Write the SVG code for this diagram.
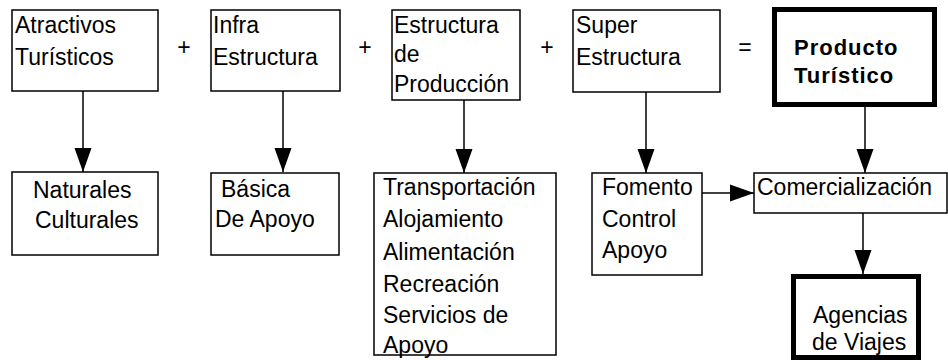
<svg xmlns="http://www.w3.org/2000/svg" width="948" height="360" viewBox="0 0 948 360">
<defs>
<style>
.box{fill:#fff;stroke:#000;stroke-width:1.5}
.thick{fill:#fff;stroke:#000;stroke-width:5}
.t{font-family:"Liberation Sans",Arial,sans-serif;font-size:23px;fill:#000}
.b{font-family:"Liberation Sans",Arial,sans-serif;font-size:22px;font-weight:bold;letter-spacing:1px;fill:#000}
.op{font-family:"Liberation Sans",Arial,sans-serif;font-size:23px;fill:#000;text-anchor:middle}
.c{fill:none;stroke:#000;stroke-width:1.5}
</style>
<marker id="ah" markerUnits="userSpaceOnUse" markerWidth="24" markerHeight="18" refX="24" refY="9" orient="auto">
<path d="M0,0.5 L24,9 L0,17.5 z" fill="#000"/>
</marker>
</defs>
<rect width="948" height="360" fill="#fff"/>
<g id="connectors">
<line class="c" x1="83" y1="91" x2="83" y2="172" marker-end="url(#ah)"/>
<line class="c" x1="283" y1="91" x2="283" y2="172" marker-end="url(#ah)"/>
<line class="c" x1="464" y1="100" x2="464" y2="173" marker-end="url(#ah)"/>
<line class="c" x1="646" y1="92" x2="646" y2="173" marker-end="url(#ah)"/>
<line class="c" x1="865" y1="107" x2="865" y2="173" marker-end="url(#ah)"/>
<line class="c" x1="702" y1="193" x2="754" y2="193" marker-end="url(#ah)"/>
<line class="c" x1="863" y1="213" x2="863" y2="274" marker-end="url(#ah)"/>
</g>
<g id="operators">
<text class="op" x="184" y="55">+</text>
<text class="op" x="365" y="55">+</text>
<text class="op" x="547" y="55">+</text>
<text class="op" x="745" y="55">=</text>
</g>
<g id="atractivos">
<rect class="box" x="12" y="10" width="146" height="81"/>
<text class="t" x="15" y="33">Atractivos</text>
<text class="t" x="15" y="65">Turísticos</text>
</g>
<g id="infra">
<rect class="box" x="211" y="10" width="129" height="81"/>
<text class="t" x="213" y="33">Infra</text>
<text class="t" x="213" y="65">Estructura</text>
</g>
<g id="estructura">
<rect class="box" x="392" y="10" width="128" height="90"/>
<text class="t" x="394" y="33">Estructura</text>
<text class="t" x="394" y="62">de</text>
<text class="t" x="394" y="92">Producción</text>
</g>
<g id="super">
<rect class="box" x="573" y="10" width="147" height="82"/>
<text class="t" x="576" y="33">Super</text>
<text class="t" x="576" y="65">Estructura</text>
</g>
<g id="producto">
<rect class="thick" x="774.5" y="9.5" width="160" height="95"/>
<text class="b" x="794" y="55">Producto</text>
<text class="b" x="794" y="83">Turístico</text>
</g>
<g id="naturales">
<rect class="box" x="12" y="172" width="146" height="83"/>
<text class="t" x="33" y="198">Naturales</text>
<text class="t" x="35" y="228">Culturales</text>
</g>
<g id="basica">
<rect class="box" x="211" y="173" width="128" height="82"/>
<text class="t" x="221" y="197">Básica</text>
<text class="t" x="215" y="227">De Apoyo</text>
</g>
<g id="transporte">
<rect class="box" x="374" y="173" width="182" height="182"/>
<text class="t" x="383" y="195">Transportación</text>
<text class="t" x="383" y="227">Alojamiento</text>
<text class="t" x="383" y="260">Alimentación</text>
<text class="t" x="383" y="292">Recreación</text>
<text class="t" x="383" y="323">Servicios de</text>
<text class="t" x="383" y="353">Apoyo</text>
</g>
<g id="fomento">
<rect class="box" x="592" y="173" width="110" height="102"/>
<text class="t" x="602" y="195">Fomento</text>
<text class="t" x="602" y="227">Control</text>
<text class="t" x="602" y="258">Apoyo</text>
</g>
<g id="comercializacion">
<rect class="box" x="754" y="173" width="193" height="40"/>
<text class="t" x="757" y="195">Comercialización</text>
</g>
<g id="agencias">
<rect class="thick" x="793.5" y="276.5" width="125" height="81"/>
<text class="t" x="813" y="323">Agencias</text>
<text class="t" x="812" y="350">de Viajes</text>
</g>
</svg>
